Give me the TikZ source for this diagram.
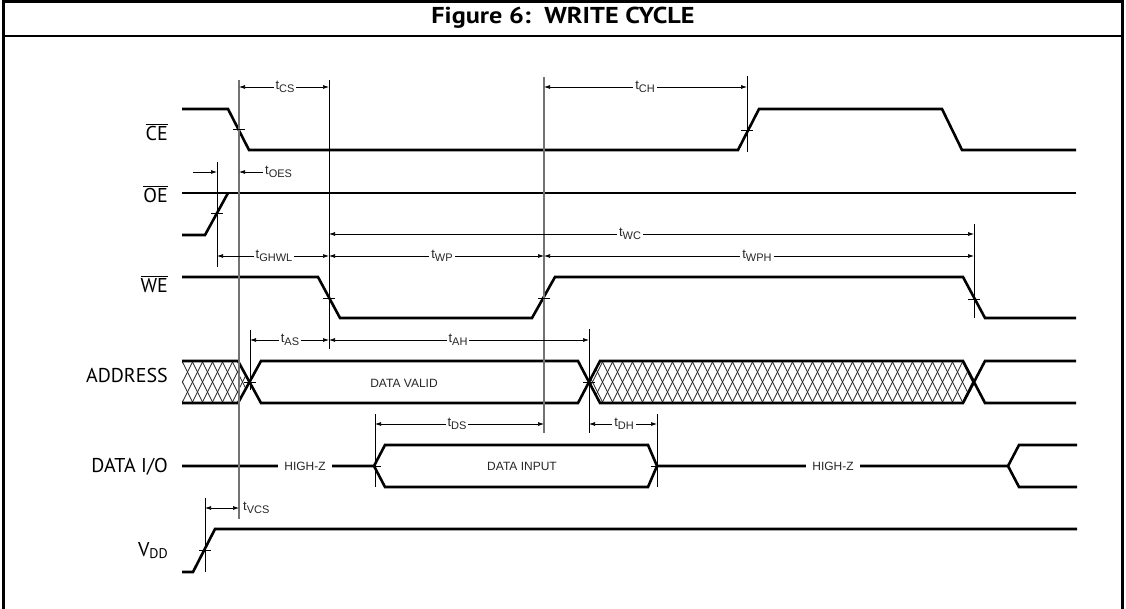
\documentclass[tikz,border=0pt]{standalone}
\usepackage{fontspec}
\setmainfont{PT Sans}
\newfontfamily\helv{Liberation Sans}
\usetikzlibrary{arrows.meta}
\newcommand\ovl[1]{\vbox{\hrule height 1.2pt\kern 1.8pt\hbox{#1}}}
\newcommand\tsub[1]{t\raisebox{-2.5pt}{\fontsize{11}{11}\selectfont #1}}
\tikzset{
  sig/.style={line width=2.6pt, line join=miter},
  thinsig/.style={line width=1.6pt},
  ext/.style={line width=0.8pt, black},
  gext/.style={line width=1.1pt, black!55},
  dimline/.style={line width=0.7pt, {Latex[length=6pt,width=4pt]}-{Latex[length=6pt,width=4pt]}},
  oneway/.style={line width=0.7pt, -{Latex[length=6pt,width=4pt]}},
  lab/.style={font=\helv\fontsize{13}{13}\selectfont, fill=white, inner sep=2pt, text=black!85},
  buslab/.style={font=\helv\fontsize{12}{12}\selectfont, fill=white, inner xsep=6pt, inner ysep=2pt, text=black!85},
  sname/.style={font=\fontsize{20}{20}\selectfont, anchor=base east, inner sep=0pt},
  crosstick/.style={line width=0.7pt},
  hatch/.style={line width=0.8pt, black!85}
}
\begin{document}
\begin{tikzpicture}[x=1pt,y=-1pt]
\useasboundingbox (0,0) rectangle (1126,609);
% frame
\draw[line width=3pt] (3.5,609) -- (3.5,2) -- (1122.5,2) -- (1122.5,609);
\draw[line width=2pt] (3.5,36) -- (1122.5,36);
\node (title) at (563,18) {\scalebox{1.14}[1]{\bfseries\fontsize{23}{23}\selectfont Figure 6:\ \ WRITE CYCLE}};

% signal names
\node[sname] (nCE) at (168,141) {\ovl{CE}};
\node[sname] (nOE) at (168,203) {\ovl{OE}};
\node[sname] (nWE) at (168,293) {\ovl{WE}};
\node[sname] (nAD) at (168,382) {ADDRESS};
\node[sname] (nDIO) at (168,472) {DATA I/O};
\node[sname] (nVDD) at (168,556) {V\raisebox{-2pt}{\fontsize{14}{14}\selectfont DD}};

% hatching
\begin{scope}
\clip (182,361) -- (238,361) -- (250,382) -- (238,403) -- (182,403) -- cycle;
\foreach \x in {152,162,...,262} {
  \draw[hatch] (\x,361) -- ++(21,42);
  \draw[hatch] (\x,403) -- ++(21,-42);
}
\end{scope}
\begin{scope}
\clip (589,382) -- (600,361) -- (963,361) -- (974,382) -- (963,403) -- (600,403) -- cycle;
\foreach \x in {572,582,...,982} {
  \draw[hatch] (\x,361) -- ++(21,42);
  \draw[hatch] (\x,403) -- ++(21,-42);
}
\end{scope}

% signals
\draw[sig] (182,109) -- (228,109) -- (249,150) -- (738,150) -- (759,109) -- (942,109) -- (962,150) -- (1076,150);
\draw[thinsig] (182,193) -- (1076,193);
\draw[sig] (182,235) -- (205,235) -- (228,193);
\draw[sig] (182,277) -- (318,277) -- (340,318) -- (532,318) -- (555,277) -- (963,277) -- (985,318) -- (1076,318);
\draw[sig] (182,361) -- (238,361) -- (261,403) -- (578,403) -- (600,361) -- (963,361) -- (985,403) -- (1076,403);
\draw[sig] (182,403) -- (238,403) -- (261,361) -- (578,361) -- (600,403) -- (963,403) -- (985,361) -- (1076,361);
\draw[sig] (182,466) -- (374,466) -- (385,445) -- (648,445) -- (657,466) -- (648,487) -- (385,487) -- (374,466);
\draw[sig] (657,466) -- (1008,466) -- (1019,445) -- (1077,445);
\draw[sig] (1008,466) -- (1019,487) -- (1077,487);
\draw[sig] (182,572) -- (193,572) -- (215,529) -- (1077,529);

% bus labels
\node[buslab] (hz1) at (305,466) {HIGH-Z};
\node[buslab] (hz2) at (833,466) {HIGH-Z};
\node[font=\helv\fontsize{12}{12}\selectfont, text=black!85] (dv) at (404,383) {DATA VALID};
\node[font=\helv\fontsize{12}{12}\selectfont, text=black!85] (di) at (522,466) {DATA INPUT};

% extension lines
\draw[gext] (239,80) -- (239,519);
\draw[gext] (544,77) -- (544,433);
\draw[ext] (329,80) -- (329,349);
\draw[ext] (747,76) -- (747,152);
\draw[ext] (974,224) -- (974,318);
\draw[ext] (217,162) -- (217,267);
\draw[ext] (250,330) -- (250,390);
\draw[ext] (589,329) -- (589,433);
\draw[ext] (375,414) -- (375,487);
\draw[ext] (657,414) -- (657,487);
\draw[ext] (205,498) -- (205,572);

% crossing ticks
\foreach \px/\py in {239/129, 217/213, 329/298, 544/298, 747/130, 974/299, 205/550, 250/382, 589/382, 375/466, 657/466} {
  \draw[crosstick] ({\px-6},\py) -- ({\px+6},\py);
}

% timing dimensions
\draw[dimline] (239,87) -- (329,87);
\node[lab] (tcs) at (285,87) {\tsub{CS}};
\draw[dimline] (544,87) -- (747,87);
\node[lab] (tch) at (645,87) {\tsub{CH}};
\draw[oneway] (193,172) -- (217,172);
\draw[oneway] (264,172) -- (239,172);
\node[lab, anchor=west] (toes) at (263,172) {\tsub{OES}};
\draw[dimline] (329,234) -- (974,234);
\node[lab] (twc) at (630,234) {\tsub{WC}};
\draw[dimline] (217,256) -- (329,256);
\node[lab] (tghwl) at (274,256) {\tsub{GHWL}};
\draw[dimline] (329,256) -- (544,256);
\node[lab] (twp) at (442,256) {\tsub{WP}};
\draw[dimline] (544,256) -- (974,256);
\node[lab] (twph) at (757,256) {\tsub{WPH}};
\draw[dimline] (250,340) -- (329,340);
\node[lab] (tas) at (290,340) {\tsub{AS}};
\draw[dimline] (329,340) -- (589,340);
\node[lab] (tah) at (458,340) {\tsub{AH}};
\draw[dimline] (375,424) -- (544,424);
\node[lab] (tds) at (457,424) {\tsub{DS}};
\draw[dimline] (589,424) -- (657,424);
\node[lab] (tdh) at (624,424) {\tsub{DH}};
\draw[dimline] (205,508) -- (239,508);
\node[lab, anchor=west] (tvcs) at (241,508) {\tsub{VCS}};
\end{tikzpicture}
\end{document}
